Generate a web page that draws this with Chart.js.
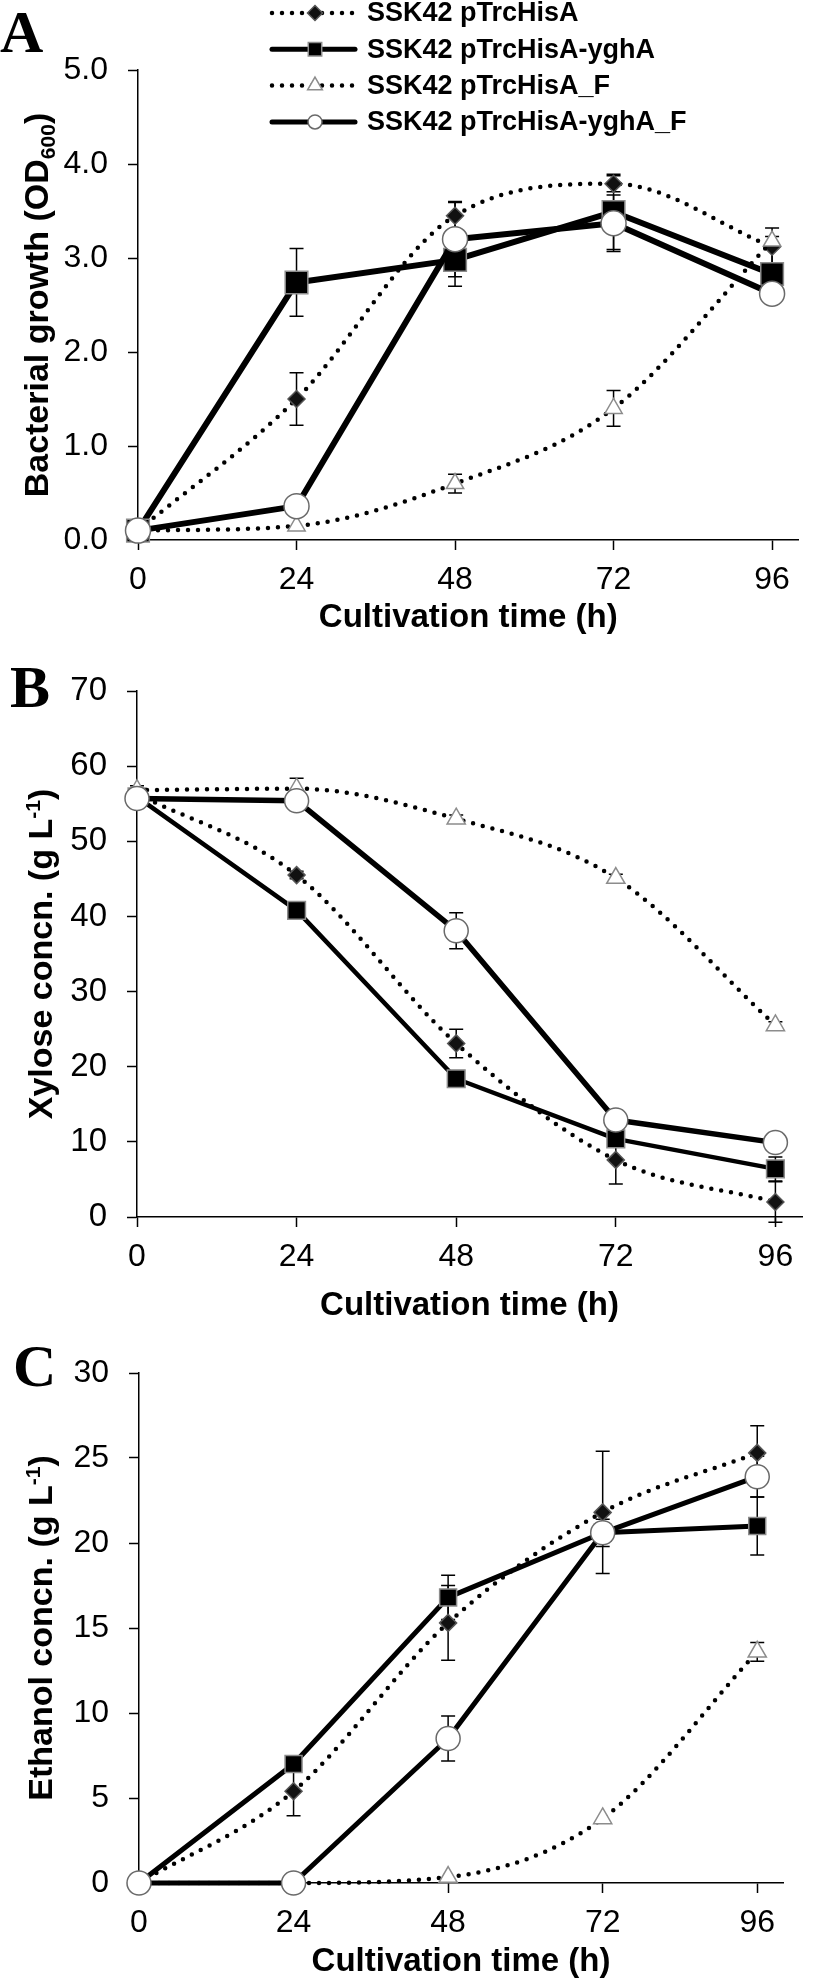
<!DOCTYPE html>
<html><head><meta charset="utf-8">
<script src="https://cdn.jsdelivr.net/npm/chart.js@4.4.1/dist/chart.umd.min.js"></script>
<style>
html,body{margin:0;padding:0;background:#fff;}
body{width:816px;height:1982px;position:relative;overflow:hidden;}
canvas{position:absolute;left:0;}
</style></head><body>
<canvas id="cA" width="816" height="650" style="top:0px"></canvas>
<canvas id="cB" width="816" height="680" style="top:650px"></canvas>
<canvas id="cC" width="816" height="652" style="top:1330px"></canvas>
<script>
// ---------- data ----------
const hours = [0, 24, 48, 72, 96];
const xTickValues = [0, 24, 48, 72, 96];
const seriesNames = ['SSK42 pTrcHisA', 'SSK42 pTrcHisA-yghA', 'SSK42 pTrcHisA_F', 'SSK42 pTrcHisA-yghA_F'];
const xTitle = 'Cultivation time (h)';

// A: bacterial growth (OD600)
const growthCtrl     = [0.10, 1.50, 3.45, 3.79, 3.12];
const growthCtrlErr  = [0, 0.28, 0.14, 0.085, 0.20];
const growthYghA     = [0.10, 2.74, 2.98, 3.49, 2.83];
const growthYghAErr  = [0, 0.36, 0.28, 0.40, 0.27];
const growthCtrlF    = [0.10, 0.15, 0.60, 1.40, 3.18];
const growthCtrlFErr = [0, 0, 0.10, 0.19, 0.05];
const growthYghAF    = [0.10, 0.36, 3.20, 3.37, 2.62];
const growthYghAFErr = [0, 0, 0.40, 0.30, 0];
const growthTicks    = [0, 1, 2, 3, 4, 5];

// B: xylose (g/L)
const xylCtrl     = [56.3, 45.5, 23.1, 7.6, 2.0];
const xylCtrlErr  = [0.5, 0.5, 1.9, 3.2, 2.7];
const xylYghA     = [55.9, 40.8, 18.4, 10.4, 6.4];
const xylYghAErr  = [0, 0, 0, 0, 1.6];
const xylCtrlF    = [56.8, 57.0, 53.0, 45.1, 25.5];
const xylCtrlFErr = [0.6, 1.4, 0.5, 0.5, 0.5];
const xylYghAF    = [55.7, 55.4, 38.1, 12.9, 9.9];
const xylYghAFErr = [0, 0, 2.4, 0, 0];
const xylTicks    = [0, 10, 20, 30, 40, 50, 60, 70];

// C: ethanol (g/L)
const ethCtrl     = [0, 5.4, 15.3, 21.8, 25.3];
const ethCtrlErr  = [0, 1.45, 2.2, 3.6, 1.6];
const ethYghA     = [0, 7.0, 16.8, 20.6, 21.0];
const ethYghAErr  = [0, 0, 1.3, 0, 1.7];
const ethCtrlF    = [0, 0, 0.35, 3.8, 13.6];
const ethCtrlFErr = [0, 0, 0, 0, 0.55];
const ethYghAF    = [0, 0, 8.5, 20.6, 23.9];
const ethYghAFErr = [0, 0, 1.33, 0.8, 1.2];
const ethTicks    = [0, 5, 10, 15, 20, 25, 30];

// ---------- styles ----------
const SANS = "'Liberation Sans', Arial, Helvetica, sans-serif";
const SERIF = "'Liberation Serif', 'Times New Roman', serif";
const seriesStyle = [
  {dotted:true,  pointStyle:'rectRot',  fill:'#111', stroke:'#555'},
  {dotted:false, pointStyle:'rect',     fill:'#000', stroke:'#8c8c8c'},
  {dotted:true,  pointStyle:'triangle', fill:'#fff', stroke:'#8c8c8c'},
  {dotted:false, pointStyle:'circle',   fill:'#fff', stroke:'#6a6a6a'}
];

const panels = [
  { id:'cA', letter:'A', letterX:0, letterY:52,
    values:[growthCtrl, growthYghA, growthCtrlF, growthYghAF],
    errors:[growthCtrlErr, growthYghAErr, growthCtrlFErr, growthYghAFErr],
    ticks: growthTicks, dec:1,
    title:[{text:'Bacterial growth (OD'},{text:'600',mode:'sub'},{text:')'}], titleX:36,
    pad:{top:70,right:0,bottom:0,left:0}, yWidth:138, xHeight:110, yFont:32, xFont:32, xTitlePad:12,
    radii:[8.5,16,10,12.5], widths:[4.5,6,4.5,6], legend:true },
  { id:'cB', letter:'B', letterX:10, letterY:57,
    values:[xylCtrl, xylYghA, xylCtrlF, xylYghAF],
    errors:[xylCtrlErr, xylYghAErr, xylCtrlFErr, xylYghAFErr],
    ticks: xylTicks, dec:0,
    title:[{text:'Xylose concn. (g L'},{text:'-1',mode:'sup'},{text:')'}], titleX:40,
    pad:{top:41,right:12,bottom:0,left:0}, yWidth:137, xHeight:113, yFont:33, xFont:32, xTitlePad:4,
    radii:[8.5,12.5,10.5,12], widths:[4.5,4.5,4.5,5.5], legend:false },
  { id:'cC', letter:'C', letterX:13, letterY:56,
    values:[ethCtrl, ethYghA, ethCtrlF, ethYghAF],
    errors:[ethCtrlErr, ethYghAErr, ethCtrlFErr, ethYghAFErr],
    ticks: ethTicks, dec:0,
    title:[{text:'Ethanol concn. (g L'},{text:'-1',mode:'sup'},{text:')'}], titleX:40,
    pad:{top:43,right:33,bottom:0,left:0}, yWidth:139, xHeight:99, yFont:32, xFont:32, xTitlePad:0,
    radii:[8.5,12,10.5,12], widths:[4.5,5,4.5,5], legend:false }
];

// ---------- helpers ----------
function drawMarker(ctx, style, x, y, r) {
  ctx.save();
  ctx.fillStyle = style.fill; ctx.strokeStyle = style.stroke; ctx.lineWidth = 1.5;
  ctx.beginPath();
  if (style.pointStyle === 'circle') { ctx.arc(x, y, r, 0, Math.PI*2); }
  else if (style.pointStyle === 'rect') { const s = r*Math.SQRT1_2; ctx.rect(x-s, y-s, 2*s, 2*s); }
  else if (style.pointStyle === 'rectRot') { ctx.moveTo(x-r,y); ctx.lineTo(x,y-r); ctx.lineTo(x+r,y); ctx.lineTo(x,y+r); ctx.closePath(); }
  else if (style.pointStyle === 'triangle') {
    let a = 0; ctx.moveTo(x + Math.sin(a)*r, y - Math.cos(a)*r);
    a += 2*Math.PI/3; ctx.lineTo(x + Math.sin(a)*r, y - Math.cos(a)*r);
    a += 2*Math.PI/3; ctx.lineTo(x + Math.sin(a)*r, y - Math.cos(a)*r); ctx.closePath();
  }
  ctx.fill(); ctx.stroke();
  ctx.restore();
}

function drawRichVertical(ctx, parts, cx, cy, size) {
  ctx.save();
  ctx.translate(cx, cy); ctx.rotate(-Math.PI/2);
  ctx.fillStyle = '#000'; ctx.textBaseline = 'alphabetic'; ctx.textAlign = 'left';
  let total = 0;
  const segs = parts.map(p => {
    const fs = p.mode ? size*0.62 : size;
    ctx.font = 'bold ' + fs + 'px ' + SANS;
    const w = ctx.measureText(p.text).width; total += w;
    return {text:p.text, mode:p.mode, fs, w};
  });
  let x = -total/2; const base = size*0.358;
  segs.forEach(s => {
    ctx.font = 'bold ' + s.fs + 'px ' + SANS;
    const dy = s.mode === 'sub' ? size*0.2 : (s.mode === 'sup' ? -size*0.36 : 0);
    ctx.fillText(s.text, x, base + dy);
    x += s.w;
  });
  ctx.restore();
}

const errorBarPlugin = {
  id: 'errorBars',
  beforeDatasetsDraw(chart) {
    const ctx = chart.ctx, xs = chart.scales.x, ys = chart.scales.y;
    ctx.save(); ctx.strokeStyle = '#000'; ctx.lineWidth = 1.5;
    chart.data.datasets.forEach(ds => {
      ds.data.forEach((p, j) => {
        const e = ds.err[j]; if (!e) return;
        const x = xs.getPixelForValue(p.x);
        const y1 = ys.getPixelForValue(p.y - e), y2 = ys.getPixelForValue(p.y + e);
        ctx.beginPath();
        ctx.moveTo(x, y1); ctx.lineTo(x, y2);
        ctx.moveTo(x-7, y1); ctx.lineTo(x+7, y1);
        ctx.moveTo(x-7, y2); ctx.lineTo(x+7, y2);
        ctx.stroke();
      });
    });
    ctx.restore();
  }
};

const decorPlugin = {
  id: 'decor',
  afterDraw(chart) {
    const cfg = chart.options.plugins.decor; const ctx = chart.ctx;
    ctx.save();
    ctx.fillStyle = '#000'; ctx.font = 'bold 60px ' + SERIF; ctx.textBaseline = 'alphabetic'; ctx.textAlign = 'left';
    ctx.fillText(cfg.letter, cfg.letterX, cfg.letterY);
    ctx.restore();
    const ca = chart.chartArea;
    drawRichVertical(ctx, cfg.title, cfg.titleX, (ca.top + ca.bottom)/2, 34);
    if (cfg.legend) {
      chart.data.datasets.forEach((ds, i) => {
        const st = seriesStyle[i]; const y = 13 + i*36.3;
        ctx.save();
        ctx.strokeStyle = '#000';
        ctx.beginPath();
        if (st.dotted) { ctx.lineWidth = 4.5; ctx.lineCap = 'round'; ctx.setLineDash([0, 10]); }
        else { ctx.lineWidth = 5; ctx.lineCap = 'round'; }
        ctx.moveTo(272, y); ctx.lineTo(355, y);
        ctx.stroke();
        ctx.restore();
        const lr = [7.5, 9.5, 8.5, 7][i];
        drawMarker(ctx, st, 315, y, lr);
        ctx.save();
        ctx.fillStyle = '#000'; ctx.font = 'bold 27px ' + SANS; ctx.textBaseline = 'middle'; ctx.textAlign = 'left';
        ctx.fillText(ds.label, 367, y + 1);
        ctx.restore();
      });
    }
  }
};

function buildChart(p) {
  const datasets = p.values.map((vals, i) => {
    const st = seriesStyle[i];
    return {
      label: seriesNames[i],
      data: hours.map((h, j) => ({x: h, y: vals[j]})),
      err: p.errors[i],
      borderColor: '#000',
      borderWidth: p.widths[i],
      borderDash: st.dotted ? [0, 10] : [],
      borderCapStyle: 'round',
      borderJoinStyle: 'round',
      cubicInterpolationMode: st.dotted ? 'monotone' : 'default',
      tension: 0,
      pointStyle: st.pointStyle,
      pointRadius: p.radii[i],
      pointHoverRadius: p.radii[i],
      pointBackgroundColor: st.fill,
      pointBorderColor: st.stroke,
      pointBorderWidth: 1.5,
      order: 3 - i,
      clip: false,
      fill: false
    };
  });
  const yMin = p.ticks[0], yMax = p.ticks[p.ticks.length-1];
  return new Chart(document.getElementById(p.id), {
    type: 'line',
    data: { datasets },
    plugins: [errorBarPlugin, decorPlugin],
    options: {
      responsive: false, animation: false, devicePixelRatio: 1,
      layout: { padding: p.pad },
      plugins: { legend: {display:false}, tooltip: {enabled:false},
        decor: { letter:p.letter, letterX:p.letterX, letterY:p.letterY, title:p.title, titleX:p.titleX, legend:p.legend } },
      scales: {
        x: {
          type: 'linear', min: 0, max: 100,
          afterBuildTicks: s => { s.ticks = xTickValues.map(v => ({value: v})); },
          ticks: { font: {family: SANS, size: p.xFont}, color: '#000', padding: 11, autoSkip: false, maxRotation: 0 },
          grid: { drawOnChartArea: false, drawTicks: true, tickLength: 10, tickWidth: 1.5, tickColor: '#000' },
          border: { display: true, color: '#000', width: 1.5 },
          title: { display: true, text: xTitle, color: '#000', font: {family: SANS, size: 33, weight: 'bold'}, padding: {top: 0, bottom: p.xTitlePad} },
          afterFit: s => { s.height = p.xHeight; }
        },
        y: {
          type: 'linear', min: yMin, max: yMax,
          afterBuildTicks: s => { s.ticks = p.ticks.map(v => ({value: v})); },
          ticks: { font: {family: SANS, size: p.yFont}, color: '#000', padding: 20, callback: v => Number(v).toFixed(p.dec) },
          grid: { drawOnChartArea: false, drawTicks: true, tickLength: 10, tickWidth: 1.5, tickColor: '#000' },
          border: { display: true, color: '#000', width: 1.5 },
          afterFit: s => { s.width = p.yWidth; }
        }
      }
    }
  });
}

panels.forEach(buildChart);
</script></body></html>
